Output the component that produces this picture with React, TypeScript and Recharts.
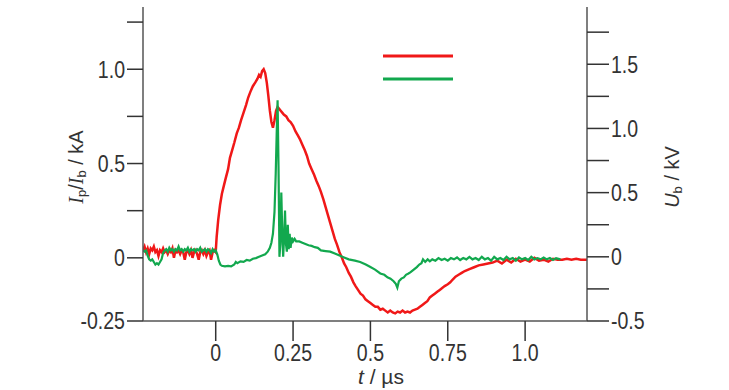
import { LineChart, Line, XAxis, YAxis, Legend } from "recharts";

// current trace I (kA), left axis: [t in µs, value]
const redTrace: [number, number][] = [
  [-0.235, 0.04], [-0.23, 0.06], [-0.225, 0.03], [-0.22, 0.05], [-0.215, 0.02], [-0.21, 0.05], [-0.205, 0.04], [-0.2, 0.06],
  [-0.195, 0.03], [-0.19, 0.04], [-0.185, 0.01], [-0.18, 0.04], [-0.175, 0.03], [-0.17, 0.05], [-0.165, 0.03], [-0.16, 0.04],
  [-0.155, 0.02], [-0.15, 0.04], [-0.145, 0.03], [-0.14, 0.05], [-0.135, 0.0], [-0.13, 0.04], [-0.125, 0.03], [-0.12, 0.04],
  [-0.115, 0.02], [-0.11, 0.04], [-0.105, 0.03], [-0.1, -0.01], [-0.095, 0.03], [-0.09, 0.04], [-0.085, 0.02], [-0.08, 0.04],
  [-0.075, 0.0], [-0.07, 0.03], [-0.065, 0.04], [-0.06, 0.02], [-0.055, -0.01], [-0.05, 0.03], [-0.045, 0.04], [-0.04, 0.02],
  [-0.035, 0.04], [-0.03, 0.01], [-0.025, 0.03], [-0.02, 0.04], [-0.015, -0.01], [-0.01, 0.03], [-0.005, 0.04], [0, 0.03],
  [0.003, 0.11], [0.008, 0.2], [0.014, 0.28], [0.02, 0.34], [0.026, 0.38], [0.032, 0.42], [0.04, 0.47], [0.046, 0.53],
  [0.053, 0.57], [0.06, 0.61], [0.068, 0.66], [0.075, 0.69], [0.082, 0.73], [0.09, 0.77], [0.098, 0.81], [0.105, 0.85],
  [0.112, 0.88], [0.12, 0.91], [0.128, 0.93], [0.135, 0.95], [0.14, 0.97], [0.145, 0.96], [0.15, 0.99], [0.155, 1.0],
  [0.16, 0.98], [0.165, 0.93], [0.17, 0.86], [0.175, 0.78], [0.18, 0.72], [0.185, 0.69], [0.19, 0.73], [0.195, 0.78],
  [0.2, 0.8], [0.205, 0.79], [0.21, 0.78], [0.215, 0.77], [0.22, 0.76], [0.228, 0.75], [0.235, 0.73], [0.242, 0.72],
  [0.25, 0.7], [0.258, 0.67], [0.265, 0.65], [0.272, 0.63], [0.28, 0.6], [0.288, 0.57], [0.295, 0.54], [0.302, 0.5],
  [0.31, 0.47], [0.318, 0.44], [0.325, 0.41], [0.333, 0.38], [0.34, 0.35], [0.348, 0.31], [0.355, 0.27], [0.362, 0.23],
  [0.37, 0.185], [0.378, 0.14], [0.385, 0.1], [0.392, 0.07], [0.4, 0.03], [0.408, 0.0], [0.415, -0.03], [0.422, -0.05],
  [0.43, -0.08], [0.437, -0.1], [0.445, -0.13], [0.452, -0.15], [0.46, -0.17], [0.468, -0.19], [0.476, -0.2], [0.484, -0.22],
  [0.492, -0.23], [0.5, -0.24], [0.508, -0.25], [0.516, -0.26], [0.524, -0.26], [0.532, -0.275], [0.54, -0.27], [0.548, -0.28],
  [0.556, -0.29], [0.564, -0.28], [0.572, -0.29], [0.58, -0.295], [0.588, -0.285], [0.596, -0.29], [0.604, -0.28], [0.612, -0.29],
  [0.62, -0.285], [0.628, -0.29], [0.636, -0.28], [0.644, -0.275], [0.652, -0.27], [0.66, -0.26], [0.668, -0.25], [0.676, -0.24],
  [0.684, -0.23], [0.692, -0.21], [0.7, -0.2], [0.708, -0.19], [0.716, -0.18], [0.724, -0.17], [0.732, -0.16], [0.74, -0.15],
  [0.75, -0.14], [0.758, -0.13], [0.766, -0.115], [0.775, -0.1], [0.785, -0.09], [0.795, -0.08], [0.805, -0.07], [0.82, -0.06],
  [0.835, -0.05], [0.85, -0.04], [0.865, -0.035], [0.88, -0.03], [0.895, -0.025], [0.91, -0.015], [0.925, -0.03], [0.94, -0.01],
  [0.955, -0.025], [0.97, -0.005], [0.985, -0.02], [1.0, -0.01], [1.015, -0.02], [1.03, 0.0], [1.045, -0.015], [1.06, -0.01],
  [1.075, -0.02], [1.09, -0.005], [1.105, -0.01], [1.12, -0.01], [1.135, -0.005], [1.15, -0.01], [1.165, -0.005], [1.18, -0.01],
  [1.2, -0.01],
];

// voltage trace Ub (kV), right axis
const greenTrace: [number, number][] = [
  [-0.235, 0.05], [-0.23, 0.04], [-0.225, 0.05], [-0.22, 0.01], [-0.215, -0.02], [-0.21, -0.03], [-0.205, -0.02], [-0.2, -0.04],
  [-0.195, -0.06], [-0.19, -0.05], [-0.185, -0.06], [-0.18, -0.04], [-0.175, -0.02], [-0.17, 0.03], [-0.165, 0.05], [-0.16, 0.06],
  [-0.155, 0.04], [-0.15, 0.07], [-0.145, 0.05], [-0.14, 0.06], [-0.135, 0.04], [-0.13, 0.06], [-0.125, 0.05], [-0.12, 0.08],
  [-0.115, 0.05], [-0.11, 0.06], [-0.105, 0.04], [-0.1, 0.06], [-0.095, 0.05], [-0.09, 0.07], [-0.085, 0.04], [-0.08, 0.06],
  [-0.075, 0.05], [-0.07, 0.06], [-0.065, 0.04], [-0.06, 0.06], [-0.055, 0.05], [-0.05, 0.07], [-0.045, 0.04], [-0.04, 0.05],
  [-0.035, 0.06], [-0.03, 0.04], [-0.025, 0.06], [-0.02, 0.05], [-0.015, 0.03], [-0.01, 0.06], [-0.005, 0.04], [0, 0.05],
  [0.005, 0.02], [0.01, -0.03], [0.015, -0.06], [0.02, -0.07], [0.03, -0.075], [0.04, -0.07], [0.05, -0.075], [0.06, -0.06],
  [0.065, -0.04], [0.07, -0.05], [0.08, -0.035], [0.09, -0.04], [0.1, -0.025], [0.11, -0.03], [0.12, -0.015], [0.13, -0.01],
  [0.14, 0.0], [0.15, 0.01], [0.16, 0.02], [0.168, 0.04], [0.175, 0.07], [0.18, 0.11], [0.185, 0.18], [0.19, 0.35],
  [0.194, 0.65], [0.197, 0.95], [0.2, 1.22], [0.203, 0.7], [0.206, 0.0], [0.209, 0.1], [0.212, 0.5], [0.215, 0.2],
  [0.218, 0.0], [0.221, 0.15], [0.224, 0.36], [0.227, 0.1], [0.23, 0.04], [0.233, 0.25], [0.236, 0.06], [0.239, 0.18],
  [0.242, 0.07], [0.246, 0.15], [0.25, 0.12], [0.255, 0.14], [0.26, 0.12], [0.27, 0.12], [0.28, 0.11], [0.29, 0.1],
  [0.3, 0.09], [0.31, 0.085], [0.32, 0.075], [0.33, 0.07], [0.34, 0.05], [0.355, 0.045], [0.37, 0.04], [0.385, 0.025],
  [0.4, 0.01], [0.415, -0.005], [0.43, -0.02], [0.45, -0.03], [0.467, -0.04], [0.485, -0.06], [0.5, -0.08], [0.515, -0.1],
  [0.532, -0.13], [0.545, -0.14], [0.555, -0.16], [0.565, -0.17], [0.575, -0.19], [0.582, -0.21], [0.587, -0.24], [0.592, -0.19],
  [0.6, -0.17], [0.608, -0.16], [0.615, -0.14], [0.623, -0.13], [0.63, -0.12], [0.64, -0.1], [0.65, -0.08], [0.658, -0.06],
  [0.665, -0.05], [0.67, -0.02], [0.677, -0.04], [0.685, -0.02], [0.692, -0.035], [0.7, -0.02], [0.71, -0.03], [0.72, -0.01],
  [0.73, -0.025], [0.74, -0.015], [0.75, -0.03], [0.76, -0.01], [0.77, -0.02], [0.78, -0.005], [0.79, -0.025], [0.8, -0.01],
  [0.81, -0.02], [0.82, 0.0], [0.83, -0.02], [0.84, -0.01], [0.85, -0.025], [0.86, 0.0], [0.87, -0.02], [0.88, -0.01],
  [0.89, -0.03], [0.9, 0.0], [0.91, -0.02], [0.92, -0.01], [0.93, -0.025], [0.94, 0.0], [0.95, -0.02], [0.96, -0.01],
  [0.97, -0.03], [0.98, -0.005], [0.99, -0.02], [1.0, -0.01], [1.01, -0.025], [1.02, 0.0], [1.03, -0.02], [1.04, -0.01],
  [1.05, -0.02], [1.06, -0.005], [1.07, -0.02], [1.08, -0.01], [1.09, -0.025], [1.1, -0.01], [1.114, -0.02],
];

const xTicks = [0, 0.25, 0.5, 0.75, 1.0];
const xTickLabels = ["0", "0.25", "0.5", "0.75", "1.0"];
// bottom tick sits at the frame edge, the original labels it -0.25
const leftTicks = [-0.335, 0, 0.25, 0.5, 0.75, 1.0, 1.25];
const leftTickLabels = ["-0.25", "0", "", "0.5", "", "1.0", ""];
const rightTicks = [-0.5, -0.25, 0, 0.25, 0.5, 0.75, 1.0, 1.25, 1.5, 1.75];
const rightTickLabels = ["-0.5", "", "0", "", "0.5", "", "1.0", "", "1.5", ""];

const redData = redTrace.map(([t, v]) => ({ t, v }));
const greenData = greenTrace.map(([t, v]) => ({ t, v }));

const RED = "#f01818";
const GREEN = "#12a84e";
const AXIS = "#555";
const FONT = "'Liberation Sans', Arial, sans-serif";

// tick labels in the original are tall and narrow, squeeze them horizontally
const NarrowTick = (props: any) => {
  const { x, y, payload, textAnchor, tickFormatter, orientation } = props;
  const text = tickFormatter ? tickFormatter(payload.value) : String(payload.value);
  if (!text) return null;
  const dy = orientation === "bottom" ? "0.72em" : "0.36em";
  return (
    <text
      transform={`translate(${x},${y}) scale(0.85,1)`}
      textAnchor={textAnchor}
      dy={dy}
      fontSize={23}
      fontFamily={FONT}
      fill="#333"
    >
      {text}
    </text>
  );
};

const labelOf = (ticks: number[], labels: string[]) => (v: number) => {
  const i = ticks.indexOf(v);
  return i >= 0 ? labels[i] : "";
};

const LegendLines = () => (
  <svg width={80} height={36}>
    <line x1={0} x2={70} y1={4} y2={4} stroke={RED} strokeWidth={3} />
    <line x1={0} x2={70} y1={27} y2={27} stroke={GREEN} strokeWidth={3} />
  </svg>
);

export default function App() {
  return (
    <div style={{ position: "absolute", left: 0, top: 0, background: "#fff" }}>
      <LineChart width={729} height={390} margin={{ top: 7, right: 82, bottom: 39, left: 83 }}>
        <XAxis
          xAxisId="top"
          orientation="top"
          type="number"
          dataKey="t"
          domain={[-0.235, 1.2]}
          allowDataOverflow
          height={0}
          tick={false}
          tickLine={false}
          axisLine={{ stroke: AXIS, strokeWidth: 1.5 }}
        />
        <XAxis
          type="number"
          dataKey="t"
          domain={[-0.235, 1.2]}
          allowDataOverflow
          ticks={xTicks}
          interval={0}
          height={30}
          tickSize={20}
          tickMargin={3}
          tickFormatter={labelOf(xTicks, xTickLabels)}
          tick={<NarrowTick orientation="bottom" />}
          axisLine={{ stroke: AXIS, strokeWidth: 1.5 }}
          tickLine={{ stroke: "#333", strokeWidth: 1.5 }}
          label={{
            content: () => (
              <text x={381} y={384} textAnchor="middle" fontSize={21} fontFamily={FONT} fill="#333">
                <tspan fontStyle="italic">t</tspan>
                <tspan> / µs</tspan>
              </text>
            ),
          }}
        />
        <YAxis
          yAxisId="left"
          type="number"
          domain={[-0.335, 1.33]}
          allowDataOverflow
          ticks={leftTicks}
          interval={0}
          width={60}
          tickSize={16}
          tickMargin={2}
          tickFormatter={labelOf(leftTicks, leftTickLabels)}
          tick={<NarrowTick orientation="left" />}
          axisLine={{ stroke: AXIS, strokeWidth: 1.5 }}
          tickLine={{ stroke: "#333", strokeWidth: 1.5 }}
          label={{
            content: () => (
              <text
                x={76}
                y={167}
                transform="rotate(-90 76 167)"
                textAnchor="middle"
                dominantBaseline="central"
                fontSize={20}
                fontFamily={FONT}
                fill="#333"
              >
                <tspan fontStyle="italic" fontFamily="'Liberation Serif', serif">I</tspan>
                <tspan fontSize={13} dy={5}>p</tspan>
                <tspan dy={-5}>/</tspan>
                <tspan fontStyle="italic" fontFamily="'Liberation Serif', serif">I</tspan>
                <tspan fontSize={13} dy={5}>b</tspan>
                <tspan dy={-5}> / kA</tspan>
              </text>
            ),
          }}
        />
        <YAxis
          yAxisId="right"
          orientation="right"
          type="number"
          domain={[-0.5, 1.946]}
          allowDataOverflow
          ticks={rightTicks}
          interval={0}
          width={60}
          tickSize={22}
          tickMargin={2}
          tickFormatter={labelOf(rightTicks, rightTickLabels)}
          tick={<NarrowTick orientation="right" />}
          axisLine={{ stroke: AXIS, strokeWidth: 1.5 }}
          tickLine={{ stroke: "#333", strokeWidth: 1.5 }}
          label={{
            content: () => (
              <text
                x={672}
                y={177}
                transform="rotate(-90 672 177)"
                textAnchor="middle"
                dominantBaseline="central"
                fontSize={20}
                fontFamily={FONT}
                fill="#333"
              >
                <tspan fontStyle="italic">U</tspan>
                <tspan fontSize={13} dy={5}>b</tspan>
                <tspan dy={-5}> / kV</tspan>
              </text>
            ),
          }}
        />
        <Legend
          layout="horizontal"
          verticalAlign="middle"
          content={() => <LegendLines />}
          wrapperStyle={{ left: 383, top: 52, width: 80, height: 36 }}
        />
        <Line
          yAxisId="left"
          data={redData}
          dataKey="v"
          type="linear"
          stroke={RED}
          strokeWidth={2.5}
          dot={false}
          isAnimationActive={false}
        />
        <Line
          yAxisId="right"
          data={greenData}
          dataKey="v"
          type="linear"
          stroke={GREEN}
          strokeWidth={2.2}
          dot={false}
          isAnimationActive={false}
        />
      </LineChart>
    </div>
  );
}
